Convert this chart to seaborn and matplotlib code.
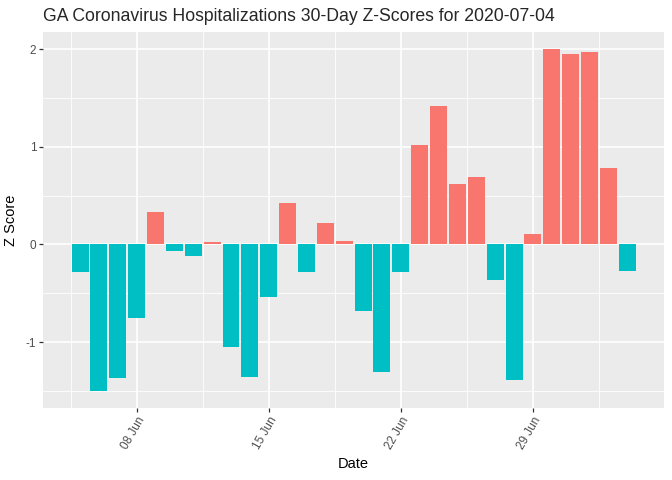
import matplotlib
matplotlib.use("Agg")
import matplotlib.pyplot as plt
import matplotlib.dates as mdates
import numpy as np
import pandas as pd
import seaborn as sns

# one bar per day, 2020-06-05 .. 2020-07-04
dates = [
    "2020-06-05", "2020-06-06", "2020-06-07", "2020-06-08", "2020-06-09",
    "2020-06-10", "2020-06-11", "2020-06-12", "2020-06-13", "2020-06-14",
    "2020-06-15", "2020-06-16", "2020-06-17", "2020-06-18", "2020-06-19",
    "2020-06-20", "2020-06-21", "2020-06-22", "2020-06-23", "2020-06-24",
    "2020-06-25", "2020-06-26", "2020-06-27", "2020-06-28", "2020-06-29",
    "2020-06-30", "2020-07-01", "2020-07-02", "2020-07-03", "2020-07-04",
]
z_scores = [
    -0.28, -1.50, -1.37, -0.75, 0.33,
    -0.07, -0.12, 0.03, -1.05, -1.36,
    -0.54, 0.43, -0.28, 0.22, 0.04,
    -0.68, -1.31, -0.28, 1.02, 1.42,
    0.62, 0.69, -0.36, -1.39, 0.11,
    2.00, 1.95, 1.97, 0.78, -0.27,
]
major_dates = ["2020-06-08", "2020-06-15", "2020-06-22", "2020-06-29"]
y_ticks = [-1, 0, 1, 2]

colors = {"pos": "#F8766D", "neg": "#00BFC4"}

df = pd.DataFrame({"date": pd.to_datetime(dates), "z": z_scores})
df["x"] = mdates.date2num(df["date"])
df["sign"] = np.where(df["z"] > 0, "pos", "neg")

sns.set_theme(style="darkgrid", rc={
    "axes.facecolor": "#EBEBEB",
    "grid.color": "white",
    "axes.edgecolor": "#EBEBEB",
})
plt.rcParams["font.family"] = ["Liberation Sans", "DejaVu Sans"]
plt.rcParams["axes.unicode_minus"] = False

fig = plt.figure(figsize=(6.72, 4.8), dpi=100)
ax = fig.add_axes([0.0645, 0.15, 0.9235, 0.783])

sns.barplot(data=df, x="x", y="z", hue="sign", palette=colors,
            native_scale=True, width=0.9, dodge=False, legend=False,
            saturation=1, linewidth=0, ax=ax)

# ggplot-style 5% expansion
xmin, xmax = df["x"].min() - 0.45, df["x"].max() + 0.45
xpad = 0.05 * (xmax - xmin)
ax.set_xlim(xmin - xpad, xmax + xpad)
ymin, ymax = min(df["z"].min(), 0), max(df["z"].max(), 0)
ypad = 0.05 * (ymax - ymin)
ax.set_ylim(ymin - ypad, ymax + ypad)

majors = mdates.date2num(pd.to_datetime(major_dates))
ax.set_xticks(majors)
ax.set_xticks(np.append(majors - 3.5, majors[-1] + 3.5), minor=True)
ax.xaxis.set_major_formatter(mdates.DateFormatter("%d %b"))
ax.set_yticks(y_ticks)
ax.set_yticks([-1.5, -0.5, 0.5, 1.5], minor=True)

ax.grid(which="major", color="white", linewidth=1.2)
ax.grid(which="minor", color="white", linewidth=0.6)
for s in ax.spines.values():
    s.set_visible(False)

ax.tick_params(axis="both", which="major", length=3, width=0.9, color="#333333",
               labelsize=8.5, labelcolor="#4D4D4D", pad=2, bottom=True, left=True)
ax.tick_params(which="minor", length=0)
for lbl in ax.get_xticklabels():
    lbl.set_rotation(60)
    lbl.set_ha("right")
    lbl.set_va("top")
    lbl.set_rotation_mode("anchor")

ax.set_xlabel("Date", fontsize=10.5, color="black")
ax.set_ylabel("Z Score", fontsize=10.5, color="black", labelpad=6)
ax.set_title("GA Coronavirus Hospitalizations 30-Day Z-Scores for 2020-07-04",
             fontsize=12.7, loc="left", x=0.0, pad=8)

fig.savefig("out.png", dpi=100)
